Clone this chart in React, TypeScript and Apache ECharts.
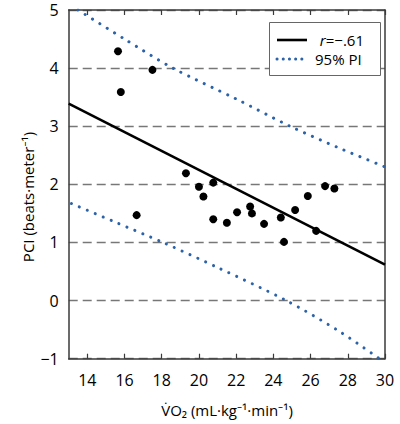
import React, { useEffect, useRef } from "react";
import * as echarts from "echarts";

const FONT = "'Open Sans', 'Noto Sans', sans-serif";

// Observed points: [VO2, PCI]
const points: [number, number][] = [
  [15.65, 4.29], [15.8, 3.59], [17.5, 3.97], [16.65, 1.47],
  [19.3, 2.19], [20.0, 1.96], [20.77, 2.03], [20.24, 1.79],
  [20.77, 1.4], [21.5, 1.34], [22.05, 1.52], [22.75, 1.62],
  [22.85, 1.5], [23.5, 1.32], [24.4, 1.43], [24.57, 1.01],
  [25.17, 1.56], [25.85, 1.8], [26.3, 1.2], [26.78, 1.97], [27.28, 1.93],
];

// Regression line end points
const fitLine: [number, number][] = [[13, 3.39], [30, 0.62]];

// 95% prediction interval
const upperPI: [number, number][] = [
  [13.5, 5.0], [16, 4.5], [18.6, 4.0], [22, 3.47], [24.9, 3.0], [27.5, 2.63], [30, 2.3],
];
const lowerPI: [number, number][] = [
  [13.15, 1.67], [15.5, 1.35], [18.07, 1.0], [21, 0.57], [24.7, 0.0], [27.5, -0.52], [29.7, -1.0],
];

const xTicks = [14, 16, 18, 20, 22, 24, 26, 28, 30];
const legendR = "=\u2212.61";
const legendPI = "95% PI";
const xTitle = "V\u0307O\u2082 (mL\u00b7kg\u207b\u00b9\u00b7min\u207b\u00b9)";
const yTitle = "PCI (beats\u00b7meter\u207b\u00b9)";

const BLUE = "#2b62a8";
const AXIS = "#3a3a3a";

export default function App() {
  const ref = useRef<HTMLDivElement>(null);
  useEffect(() => {
    if (!ref.current) return;
    const chart = echarts.init(ref.current, undefined, { renderer: "svg" });
    const dotted = { type: [0.1, 8.5] as any, cap: "round" as const, width: 3, color: BLUE };
    chart.setOption({
      animation: false,
      backgroundColor: "#ffffff",
      grid: { left: 68.7, right: 15, top: 10, bottom: 65.3, containLabel: false },
      xAxis: [
        {
          type: "value", min: 13, max: 30, position: "bottom",
          axisLine: { show: true, onZero: false, lineStyle: { color: AXIS, width: 1.5 } },
          axisTick: { show: true, inside: true, length: 5, customValues: xTicks, lineStyle: { color: AXIS, width: 1.2 } },
          axisLabel: { customValues: xTicks, fontFamily: FONT, fontSize: 16, color: "#000", margin: 13 },
          splitLine: { show: false },
        },
        {
          type: "value", min: 13, max: 30, position: "top",
          axisLine: { show: true, onZero: false, lineStyle: { color: AXIS, width: 1.5 } },
          axisTick: { show: true, inside: true, length: 5, customValues: xTicks, lineStyle: { color: AXIS, width: 1.2 } },
          axisLabel: { show: false },
          splitLine: { show: false },
        },
      ],
      yAxis: [
        {
          type: "value", min: -1, max: 5, interval: 1, position: "left",
          axisLine: { show: true, onZero: false, lineStyle: { color: AXIS, width: 1.5 } },
          axisTick: { show: false },
          axisLabel: {
            fontFamily: FONT, fontSize: 16, color: "#000", margin: 10,
            formatter: (v: number) => (v < 0 ? "\u2212" + Math.abs(v) : String(v)),
          },
          splitLine: { show: true, lineStyle: { color: "#777", width: 1.3, type: [9, 5] } },
        },
        {
          type: "value", min: -1, max: 5, interval: 1, position: "right",
          axisLine: { show: true, onZero: false, lineStyle: { color: AXIS, width: 1.5 } },
          axisTick: { show: false }, axisLabel: { show: false }, splitLine: { show: false },
        },
      ],
      series: [
        {
          type: "line", data: upperPI, smooth: 0.3, symbol: "none", lineStyle: dotted, z: 3,
        },
        {
          type: "line", data: lowerPI, smooth: 0.3, symbol: "none", lineStyle: dotted, z: 3,
        },
        {
          type: "line", data: fitLine, symbol: "none", lineStyle: { color: "#000", width: 2.6 }, z: 4,
        },
        {
          type: "scatter", data: points, symbol: "circle", symbolSize: 8,
          itemStyle: { color: "#000", opacity: 1 }, z: 5,
        },
      ],
      graphic: [
        {
          type: "rect", z: 100, shape: { x: 269.5, y: 22.5, width: 111, height: 53 },
          style: { fill: "#fff", stroke: "#666", lineWidth: 1 },
        },
        {
          type: "line", z: 101, shape: { x1: 277, y1: 40, x2: 307, y2: 40 },
          style: { stroke: "#000", lineWidth: 2.6 },
        },
        {
          type: "line", z: 101, shape: { x1: 277, y1: 59, x2: 307, y2: 59 },
          style: { stroke: BLUE, lineWidth: 3, lineDash: [0.1, 6.1], lineCap: "round" },
        },
        {
          type: "text", z: 101, x: 364, y: 40,
          style: {
            text: "{i|r}{n|" + legendR + "}", align: "right", verticalAlign: "middle",
            fontFamily: FONT, fontSize: 15, lineHeight: 15, fill: "#000",
            rich: {
              i: { fontStyle: "italic", fontFamily: FONT, fontSize: 15, lineHeight: 15, fill: "#000" },
              n: { fontFamily: FONT, fontSize: 15, lineHeight: 15, fill: "#000" },
            },
          },
        },
        {
          type: "text", z: 101, x: 315, y: 59,
          style: { text: legendPI, align: "left", verticalAlign: "middle", fontFamily: FONT, fontSize: 15, lineHeight: 15, fill: "#000" },
        },
        {
          type: "text", x: 227, y: 410,
          style: { text: xTitle, align: "center", verticalAlign: "middle", fontFamily: FONT, fontSize: 15, fill: "#000" },
        },
        {
          type: "text", x: 28, y: 197, rotation: Math.PI / 2,
          style: { text: yTitle, align: "center", verticalAlign: "middle", fontFamily: FONT, fontSize: 15, fill: "#000" },
        },
      ],
    });
    return () => chart.dispose();
  }, []);
  return (
    <div
      ref={ref}
      style={{ position: "absolute", left: 0, top: 0, width: 400, height: 424, background: "#fff" }}
    />
  );
}
